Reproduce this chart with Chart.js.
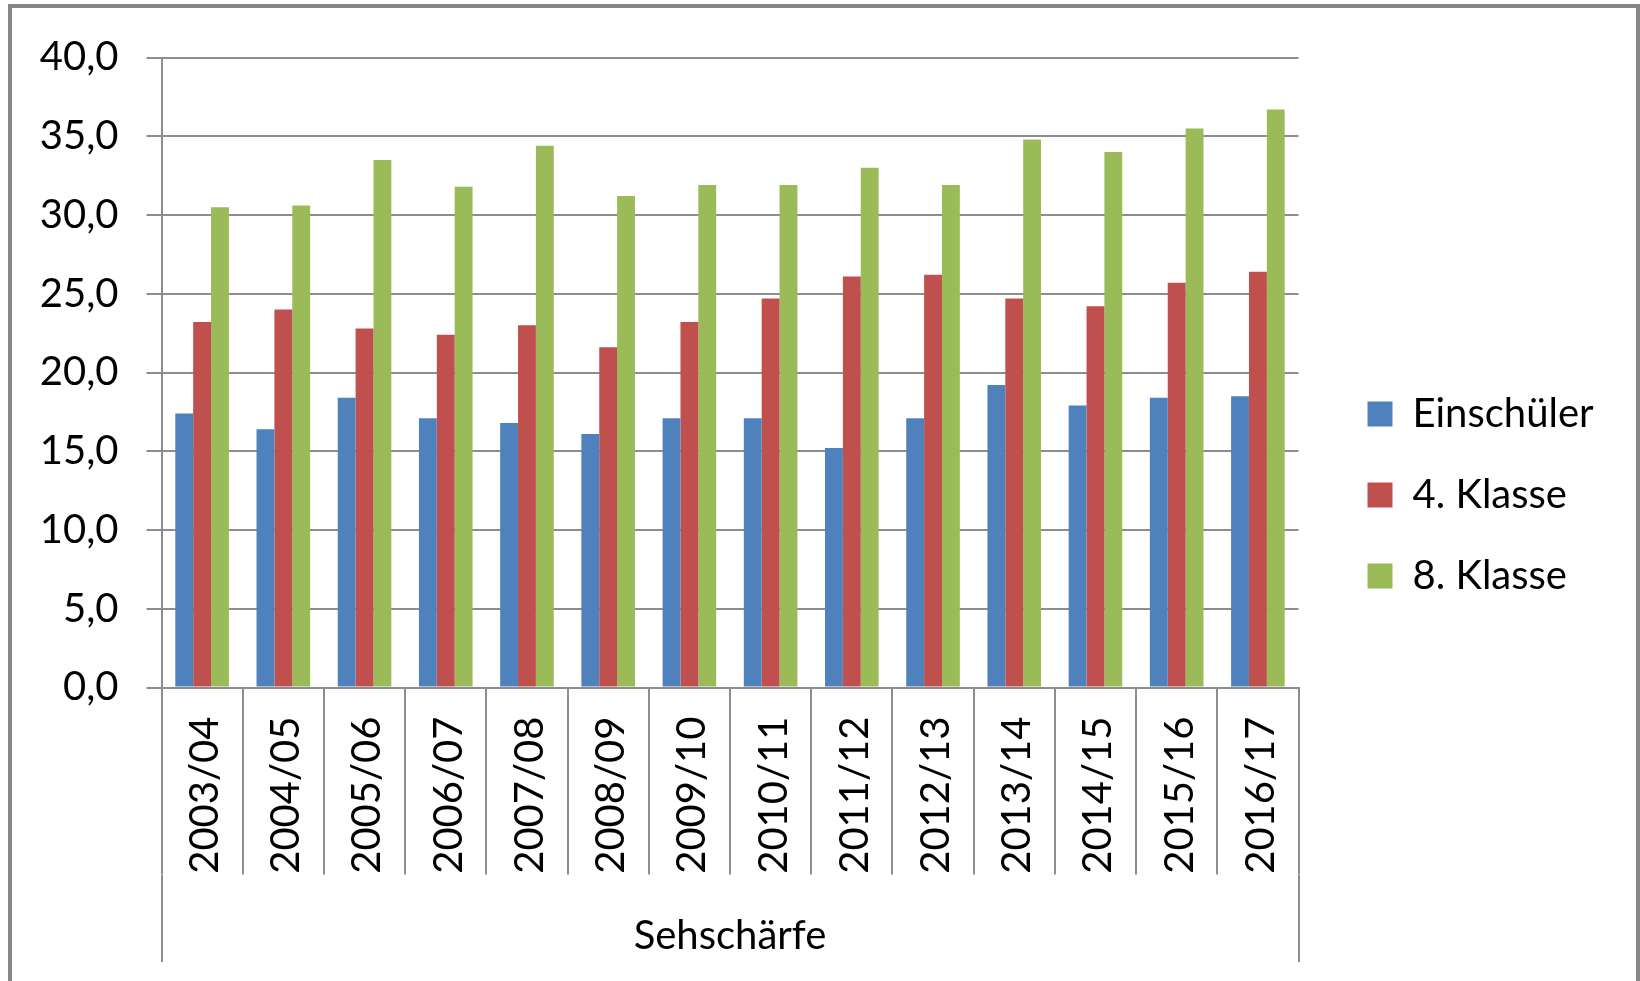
<!DOCTYPE html>
<html>
<head>
<meta charset="utf-8">
<script src="https://cdn.jsdelivr.net/npm/chart.js@4"></script>
<style>
html,body{margin:0;padding:0;background:#fff;}
#wrap{position:relative;width:1640px;height:981px;overflow:hidden;}
canvas{display:block;}
</style>
</head>
<body>
<div id="wrap"><canvas id="c" width="1640" height="981"></canvas></div>
<script>
// ---- data ----
const categories = ['2003/04','2004/05','2005/06','2006/07','2007/08','2008/09','2009/10','2010/11','2011/12','2012/13','2013/14','2014/15','2015/16','2016/17'];
const einschueler = [17.4,16.4,18.4,17.1,16.8,16.1,17.1,17.1,15.2,17.1,19.2,17.9,18.4,18.5];
const klasse4     = [23.2,24.0,22.8,22.4,23.0,21.6,23.2,24.7,26.1,26.2,24.7,24.2,25.7,26.4];
const klasse8     = [30.5,30.6,33.5,31.8,34.4,31.2,31.9,31.9,33.0,31.9,34.8,34.0,35.5,36.7];
const seriesNames = ['Einschüler','4. Klasse','8. Klasse'];
const yTickValues = [0,5,10,15,20,25,30,35,40];
const groupLabels = ['Sehschärfe'];

// ---- styling ----
const FONT = 'Lato';
const GRID = '#8d8d8d';
const COLORS = ['#4F81BD','#C0504D','#9BBB59'];
const legendFont = 40;
const legendPad = 41;
const legendBox = 25;
const plotRight = 1298.5;
const gapRight = 28;

Chart.defaults.font.family = FONT;
Chart.defaults.color = '#000';

const framePlugin = {
  id: 'frame',
  afterDraw(chart) {
    const ctx = chart.ctx;
    ctx.save();
    ctx.strokeStyle = '#878787';
    ctx.lineWidth = 4;
    ctx.strokeRect(10, 6, chart.width - 12, chart.height + 20);
    ctx.restore();
  }
};

const chart = new Chart(document.getElementById('c'), {
  type: 'bar',
  data: {
    labels: categories,
    datasets: [
      {label: seriesNames[0], data: einschueler, backgroundColor: COLORS[0], borderWidth: 0},
      {label: seriesNames[1], data: klasse4, backgroundColor: COLORS[1], borderWidth: 0},
      {label: seriesNames[2], data: klasse8, backgroundColor: COLORS[2], borderWidth: 0}
    ]
  },
  options: {
    responsive: false,
    animation: false,
    devicePixelRatio: 1,
    datasets: { bar: { barPercentage: 1.0, categoryPercentage: 0.66 } },
    layout: { padding: { left: 20, top: 19, right: 60, bottom: 10 } },
    plugins: {
      legend: {
        position: 'right',
        align: 'center',
        maxWidth: 600,
        labels: {
          font: { size: legendFont, family: FONT },
          color: '#000',
          boxWidth: legendBox,
          boxHeight: legendBox,
          padding: legendPad
        }
      },
      tooltip: { enabled: false },
      title: { display: false }
    },
    scales: {
      x: {
        type: 'category',
        position: 'bottom',
        offset: true,
        grid: { drawOnChartArea: false, offset: true, tickLength: 187, color: GRID, lineWidth: 2 },
        border: { display: true, color: GRID, width: 2 },
        ticks: {
          autoSkip: false, minRotation: 90, maxRotation: 90,
          padding: -158, labelOffset: 3, font: { size: 40 }, color: '#000'
        },
        afterFit(s) { s.height = 187; }
      },
      x2: {
        type: 'category',
        labels: groupLabels,
        position: 'bottom',
        weight: 1,
        offset: true,
        grid: { drawOnChartArea: false, offset: true, tickLength: 87.5, color: GRID, lineWidth: 2 },
        border: { display: false },
        ticks: { padding: -50, font: { size: 40 }, color: '#000', maxRotation: 0 },
        afterFit(s) { s.height = 96.5; }
      },
      xT: {
        type: 'linear',
        axis: 'x',
        position: 'top',
        display: true,
        grid: { display: false, drawTicks: false },
        border: { display: false },
        ticks: { display: false },
        afterFit(s) { s.height = 38.5; }
      },
      y: {
        type: 'linear',
        position: 'left',
        min: yTickValues[0],
        max: yTickValues[yTickValues.length - 1],
        afterBuildTicks(s) { s.ticks = yTickValues.map(v => ({ value: v })); },
        grid: { color: GRID, lineWidth: 2, tickLength: 15 },
        border: { display: true, color: GRID, width: 2 },
        ticks: {
          padding: 28, font: { size: 40 }, color: '#000',
          callback: v => v.toFixed(1).replace('.', ',')
        },
        afterFit(s) { s.width = 141.5; }
      },
      yR: {
        type: 'linear',
        axis: 'y',
        position: 'right',
        display: true,
        grid: { display: false, drawTicks: false },
        border: { display: false },
        ticks: { display: false },
        afterFit(s) { s.width = gapRight; }
      }
    }
  },
  plugins: [framePlugin]
});

// adjust right padding so the plot area ends where the reference's does
const diff = chart.chartArea.right - plotRight;
if (Math.abs(diff) > 0.25) {
  chart.options.layout.padding.right += diff;
  chart.update('none');
}
</script>
</body>
</html>
